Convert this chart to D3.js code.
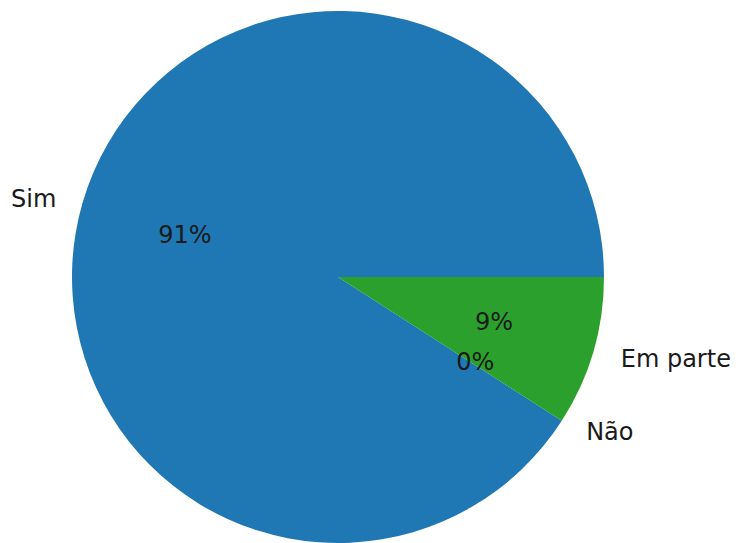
<!DOCTYPE html>
<html>
<head>
<meta charset="utf-8">
<script src="https://cdn.jsdelivr.net/npm/d3@7"></script>
<style>
html,body{margin:0;padding:0;background:#fff;}
svg{display:block;}
</style>
</head>
<body>
<svg id="chart" width="740" height="543"></svg>
<script>
const categories = ["Sim", "Não", "Em parte"];
const values = [10, 0, 1];
const colors = ["#1f77b4", "#ff7f0e", "#2ca02c"];

const W = 740, H = 543;
const cx = 338, cy = 277, R = 266;
const fontSize = 24;

const svg = d3.select("#chart");
const g = svg.append("g").attr("transform", `translate(${cx},${cy})`);

const data = categories.map((c, i) => ({ name: c, value: values[i], color: colors[i] }));
const total = d3.sum(values);

const pie = d3.pie()
  .value(d => d.value)
  .sort(null)
  .startAngle(Math.PI / 2)
  .endAngle(Math.PI / 2 - 2 * Math.PI);

const arcs = pie(data);
const arc = d3.arc().innerRadius(0).outerRadius(R);

g.selectAll("path.slice")
  .data(arcs)
  .enter().append("path")
  .attr("class", "slice")
  .attr("d", arc)
  .attr("fill", d => d.data.color);

const pos = (a, f) => {
  const m = (a.startAngle + a.endAngle) / 2;
  return [R * f * Math.sin(m), 1.6 - 0.971 * R * f * Math.cos(m)];
};

g.selectAll("text.lbl")
  .data(arcs)
  .enter().append("text")
  .attr("class", "lbl")
  .attr("x", d => pos(d, 1.1)[0] + (pos(d, 1.1)[0] > 0 ? 2 : -1))
  .attr("y", d => pos(d, 1.1)[1])
  .attr("text-anchor", d => pos(d, 1.1)[0] > 0 ? "start" : "end")
  .attr("dominant-baseline", "central")
  .attr("font-family", "DejaVu Sans")
  .attr("font-size", fontSize)
  .attr("fill", "#1a1a1a")
  .text(d => d.data.name);

g.selectAll("text.pct")
  .data(arcs)
  .enter().append("text")
  .attr("class", "pct")
  .attr("x", d => pos(d, 0.6)[0] + (pos(d, 0.6)[0] > 0 ? 3 : 0))
  .attr("y", d => pos(d, 0.6)[1])
  .attr("text-anchor", "middle")
  .attr("dominant-baseline", "central")
  .attr("font-family", "DejaVu Sans")
  .attr("font-size", fontSize)
  .attr("fill", "#1a1a1a")
  .text(d => Math.round(d.data.value / total * 100) + "%");
</script>
</body>
</html>
